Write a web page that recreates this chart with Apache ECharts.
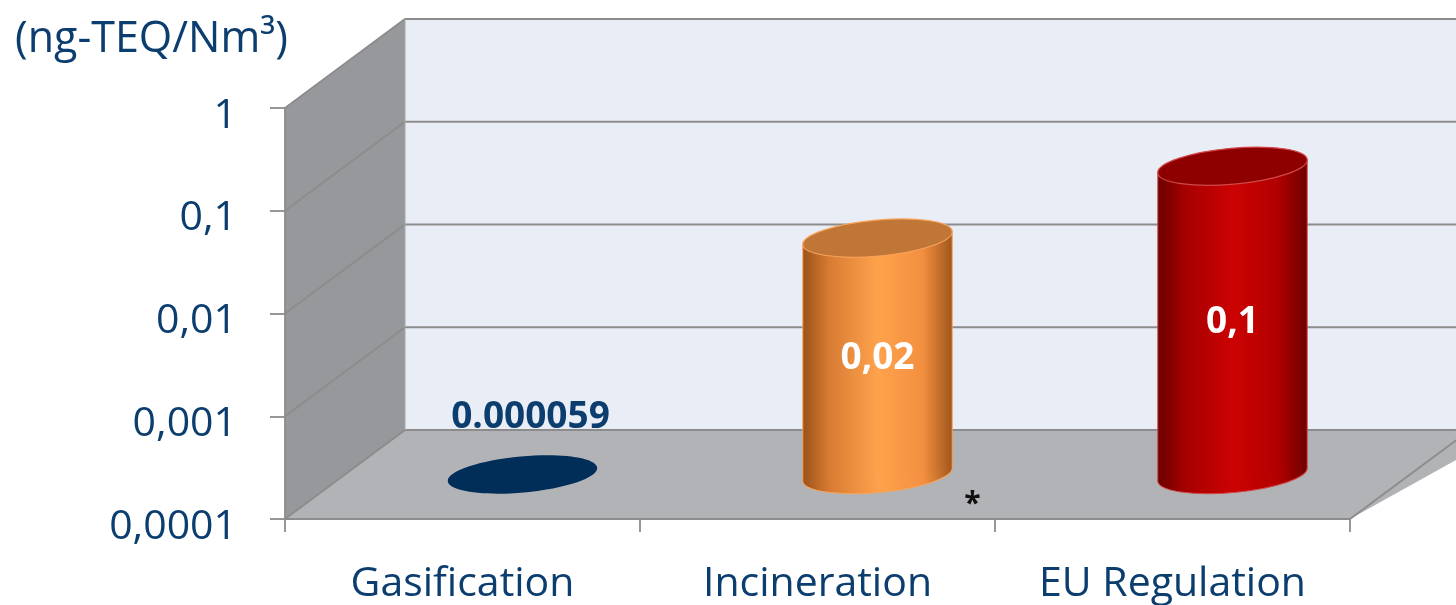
<!DOCTYPE html>
<html><head><meta charset="utf-8">
<script src="https://cdn.jsdelivr.net/npm/echarts@6/dist/echarts.min.js"></script>
<style>html,body{margin:0;padding:0;background:#fff}#c{width:1456px;height:605px}</style>
</head><body><div id="c"></div>
<script>
// ---- data ----
const categories = ['Gasification', 'Incineration', 'EU Regulation'];
const values = [0.000059, 0.02, 0.1];
const valueLabels = ['0.000059', '0,02', '0,1'];
const notes = ['', '*', ''];
const yTicks = [0.0001, 0.001, 0.01, 0.1, 1];
const yTickLabels = ['0,0001', '0,001', '0,01', '0,1', '1'];
const unitLabel = '(ng-TEQ/Nm³)';

// ---- style ----
const NAVY = '#0B3D6F';
const LINE = '#8C8C8C';
const FONT = 'Open Sans';
const DX = 120, DY = -89;
const RX = 75, RY = 18, ROT = 0.09;
const styles = [
  { flat: '#002E58', label: NAVY },
  { stops: ['#9B5219', '#D87C34', '#FFA24C', '#F39040', '#A0561C'], top: '#C07636', edge: '#F7A35A', label: '#FFFFFF' },
  { stops: ['#6A0000', '#A60000', '#CC0202', '#B20000', '#6E0000'], top: '#8E0000', edge: '#D24848', label: '#FFFFFF' }
];

function grad(stops) {
  return new echarts.graphic.LinearGradient(0, 0, 1, 0, [
    { offset: 0, color: stops[0] }, { offset: 0.18, color: stops[1] },
    { offset: 0.5, color: stops[2] }, { offset: 0.8, color: stops[3] },
    { offset: 1, color: stops[4] }
  ]);
}

function renderWalls(params, api) {
  const cs = params.coordSys;
  const x0 = cs.x, x1 = cs.x + cs.width;
  const yF = api.coord([0, yTicks[0]])[1];
  const yT = api.coord([0, yTicks[yTicks.length - 1]])[1];
  const ch = [];
  ch.push({ type: 'polygon', shape: { points: [[x0 + DX, yT + DY], [x1 + DX + 40, yT + DY], [x1 + DX + 40, yF + DY], [x0 + DX, yF + DY]] }, style: { fill: '#E9EDF5' } });
  ch.push({ type: 'polygon', shape: { points: [[x0, yT], [x0 + DX, yT + DY], [x0 + DX, yF + DY], [x0, yF]] }, style: { fill: '#97989C' } });
  ch.push({ type: 'polygon', shape: { points: [[x0, yF], [x0 + DX, yF + DY], [x1 + DX + 40, yF + DY], [x1, yF]] }, style: { fill: '#B1B3B7' } });
  yTicks.forEach(function (t) {
    const y = api.coord([0, t])[1];
    ch.push({ type: 'polyline', shape: { points: [[x0, y], [x0 + DX, y + DY], [x1 + DX + 40, y + DY]] }, style: { stroke: LINE, lineWidth: 1.8, fill: null } });
  });
  ch.push({ type: 'line', shape: { x1: x0 + DX, y1: yT + DY, x2: x0 + DX, y2: yF + DY }, style: { stroke: '#A6A8AD', lineWidth: 1 } });
  ch.push({ type: 'line', shape: { x1: x1, y1: yF, x2: x1 + DX, y2: yF + DY }, style: { stroke: LINE, lineWidth: 1.8 } });
  ch.push({ type: 'line', shape: { x1: x0, y1: yF, x2: x1, y2: yF }, style: { stroke: LINE, lineWidth: 1.8 } });
  return { type: 'group', children: ch };
}

function renderCyl(params, api) {
  const i = api.value(0), v = api.value(1);
  const floorY = api.coord([i, yTicks[0]])[1];
  const c = api.coord([i, Math.max(v, yTicks[0])]);
  const cx = c[0] + DX / 2;
  const base = floorY + DY / 2;
  const top = Math.min(c[1], floorY) + DY / 2;
  const sx = RX * Math.cos(ROT), sy = RX * Math.sin(ROT);
  const st = styles[i];
  const ch = [];
  let labelY, labelX = cx;
  if (v <= yTicks[0]) {
    ch.push({ type: 'ellipse', shape: { cx: cx, cy: base, rx: RX, ry: RY }, rotation: ROT, originX: cx, originY: base, style: { fill: st.flat } });
    labelY = base - 57;
    labelX = cx + 8;
  } else {
    ch.push({ type: 'ellipse', shape: { cx: cx, cy: base, rx: RX, ry: RY }, rotation: ROT, originX: cx, originY: base, style: { fill: grad(st.stops), stroke: st.edge, lineWidth: 1 } });
    ch.push({ type: 'polygon', shape: { points: [[cx - sx, top + sy], [cx + sx, top - sy], [cx + sx, base - sy], [cx - sx, base + sy]] }, style: { fill: grad(st.stops) } });
    ch.push({ type: 'line', shape: { x1: cx - sx, y1: top + sy, x2: cx - sx, y2: base + sy }, style: { stroke: st.edge, lineWidth: 1 } });
    ch.push({ type: 'line', shape: { x1: cx + sx, y1: top - sy, x2: cx + sx, y2: base - sy }, style: { stroke: st.edge, lineWidth: 1 } });
    ch.push({ type: 'ellipse', shape: { cx: cx, cy: top, rx: RX, ry: RY }, rotation: ROT, originX: cx, originY: top, style: { fill: st.top, stroke: st.edge, lineWidth: 1.2 } });
    labelY = (top + base) / 2 + 2;
  }
  ch.push({ type: 'text', style: { text: valueLabels[i], x: labelX, y: labelY, fill: st.label, fontFamily: FONT, fontSize: 37, fontWeight: 'bold', align: 'center', verticalAlign: 'middle' } });
  if (notes[i]) {
    ch.push({ type: 'text', style: { text: notes[i], x: cx + 95, y: base + 30, fill: '#111', fontFamily: FONT, fontSize: 30, fontWeight: 'bold', align: 'center', verticalAlign: 'middle' } });
  }
  return { type: 'group', children: ch };
}

const chart = echarts.init(document.getElementById('c'), null, { renderer: 'canvas' });
chart.setOption({
  animation: false,
  backgroundColor: '#ffffff',
  title: { text: unitLabel, left: 10, top: 13, textStyle: { fontFamily: FONT, fontSize: 43, fontWeight: 'normal', color: NAVY } },
  grid: { left: 285, right: 106, top: 108, bottom: 85 },
  xAxis: {
    type: 'category', data: categories, boundaryGap: true,
    axisLine: { show: true, lineStyle: { color: LINE, width: 1.8 } },
    axisTick: { show: true, length: 13, lineStyle: { color: LINE, width: 1.8 } },
    axisLabel: { margin: 45, fontFamily: FONT, fontSize: 41, color: NAVY }
  },
  yAxis: {
    type: 'log', logBase: 10, min: yTicks[0], max: yTicks[yTicks.length - 1],
    axisLine: { show: true, lineStyle: { color: LINE, width: 1.8 } },
    axisTick: { show: true, length: 15, lineStyle: { color: LINE, width: 1.8 } },
    splitLine: { show: false },
    axisLabel: {
      margin: 48, fontFamily: FONT, fontSize: 41, color: NAVY, verticalAlign: 'top', lineHeight: 16,
      formatter: function (val) { const k = Math.round(Math.log10(val)) + 4; return yTickLabels[k] || ''; }
    }
  },
  series: [
    { type: 'custom', name: 'walls', z: -1, clip: false, silent: true, renderItem: renderWalls, data: [[0, yTicks[0]]] },
    { type: 'custom', name: 'values', z: 5, clip: false, renderItem: renderCyl, data: values.map(function (v, i) { return [i, v]; }) }
  ]
});
</script></body></html>
